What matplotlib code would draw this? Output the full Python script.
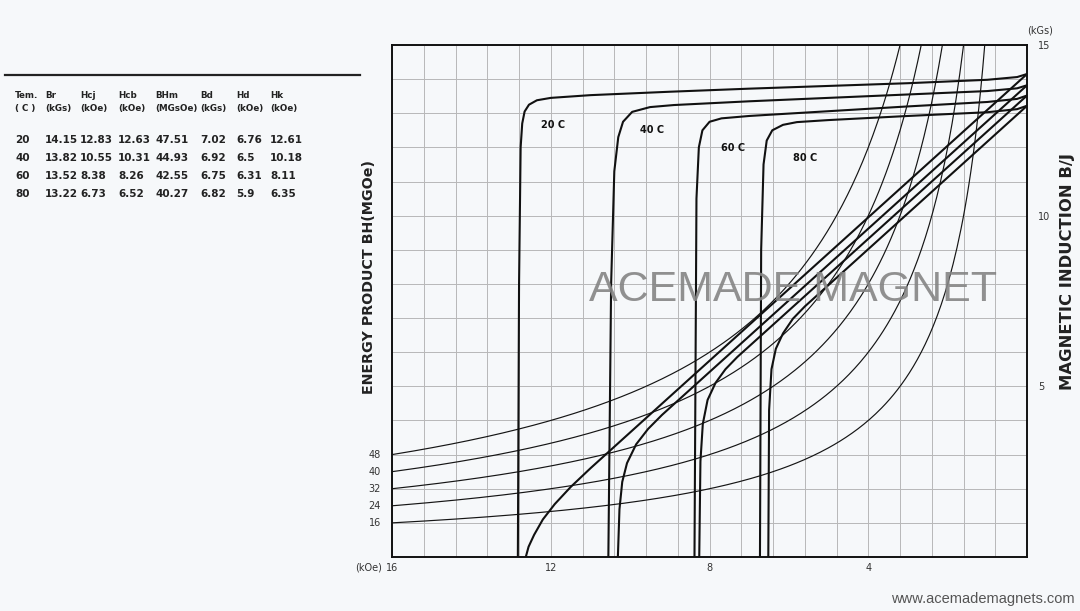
import matplotlib
matplotlib.use("Agg")
import matplotlib.pyplot as plt
import numpy as np

# table data
temps = ["20", "40", "60", "80"]
br = ["14.15", "13.82", "13.52", "13.22"]
hcj = ["12.83", "10.55", "8.38", "6.73"]
hcb = ["12.63", "10.31", "8.26", "6.52"]
bhm = ["47.51", "44.93", "42.55", "40.27"]
bd = ["7.02", "6.92", "6.75", "6.82"]
hd = ["6.76", "6.5", "6.31", "5.9"]
hk = ["12.61", "10.18", "8.11", "6.35"]
col_head = ["Tem.", "Br", "Hcj", "Hcb", "BHm", "Bd", "Hd", "Hk"]
col_unit = ["( C )", "(kGs)", "(kOe)", "(kOe)", "(MGsOe)", "(kGs)", "(kOe)", "(kOe)"]

# intrinsic curves J(H) (H in kOe, J in kGs)
j20_h = [0, 0.25, 1, 3, 5, 7, 9, 11, 12, 12.35, 12.55, 12.66, 12.72, 12.76, 12.8, 12.83]
j20_b = [14.15, 14.06, 13.98, 13.88, 13.8, 13.72, 13.63, 13.53, 13.45, 13.38, 13.25, 13.05, 12.7, 12.0, 8.0, 0]
j40_h = [0, 0.25, 1, 3, 5, 7, 8.9, 9.5, 9.95, 10.18, 10.3, 10.4, 10.48, 10.55]
j40_b = [13.82, 13.73, 13.65, 13.55, 13.45, 13.35, 13.24, 13.18, 13.04, 12.75, 12.3, 11.3, 8.0, 0]
j60_h = [0, 0.25, 1, 3, 5, 7, 7.7, 8.0, 8.18, 8.27, 8.33, 8.38]
j60_b = [13.52, 13.42, 13.33, 13.2, 13.06, 12.92, 12.85, 12.75, 12.5, 12.0, 10.5, 0]
j80_h = [0, 0.25, 1, 3, 5, 5.8, 6.15, 6.42, 6.56, 6.64, 6.7, 6.73]
j80_b = [13.22, 13.12, 13.03, 12.92, 12.8, 12.74, 12.66, 12.5, 12.2, 11.5, 9.0, 0]

# normal curves B(H)
b20_h = [0, 11.0, 11.5, 11.9, 12.2, 12.42, 12.56, 12.63]
b20_b = [14.15, 2.6, 2.05, 1.55, 1.1, 0.65, 0.3, 0]
b40_h = [0, 9.2, 9.55, 9.85, 10.08, 10.2, 10.27, 10.31]
b40_b = [13.82, 4.16, 3.75, 3.3, 2.75, 2.2, 1.4, 0]
b60_h = [0, 7.3, 7.6, 7.85, 8.05, 8.17, 8.23, 8.26]
b60_b = [13.52, 5.86, 5.5, 5.1, 4.6, 3.9, 2.8, 0]
b80_h = [0, 5.6, 5.9, 6.15, 6.33, 6.44, 6.5, 6.52]
b80_b = [13.22, 7.34, 6.98, 6.55, 6.1, 5.5, 4.3, 0]

# curve labels
lab_text = ["20 C", "40 C", "60 C", "80 C"]
lab_h = [11.95, 9.45, 7.4, 5.6]
lab_b = [12.65, 12.5, 11.98, 11.69]

# constant energy product lines (MGOe)
bh_levels = [16, 24, 32, 40, 48]

bg = "#f6f8fa"
fig = plt.figure(figsize=(10.8, 6.11), dpi=100, facecolor=bg)
ax = fig.add_axes([0.363, 0.0884, 0.588, 0.838])
ax.set_facecolor(bg)

ax.set_xlim(16, 0)
ax.set_ylim(0, 15)
ax.set_xticks([16, 12, 8, 4])
ax.set_xticks(np.arange(0, 16.01, 0.8), minor=True)
ax.set_yticks([5, 10, 15])
ax.set_yticks(np.arange(0, 15.01, 1), minor=True)
ax.grid(True, which="both", color="#b8b8b8", lw=0.7)
ax.set_axisbelow(True)
ax.tick_params(which="both", length=0)
ax.tick_params(axis="x", labelsize=7, colors="#333333", pad=4)
ax.tick_params(axis="y", labelleft=False, labelright=True, labelsize=7, colors="#333333", pad=8)
ax.set_xticklabels(["16", "12", "8", "4"])
ax.set_yticklabels(["5", "10", "15"])
for s in ax.spines.values():
  s.set_linewidth(1.4)
  s.set_color("#111111")

for lv in bh_levels:
  h = np.linspace(lv / 15.0, 16, 300)
  ax.plot(h, lv / h, color="#151515", lw=0.85)
  ax.annotate(str(lv), (16, lv / 16.0), xytext=(-8, 0), textcoords="offset points",
              ha="right", va="center", fontsize=7, color="#333333")

kw = dict(color="#111111", lw=1.5, solid_joinstyle="round", solid_capstyle="round")
for hh, bb in [(j20_h, j20_b), (j40_h, j40_b), (j60_h, j60_b), (j80_h, j80_b),
               (b20_h, b20_b), (b40_h, b40_b), (b60_h, b60_b), (b80_h, b80_b)]:
  ax.plot(hh, bb, **kw)

for t, x, y in zip(lab_text, lab_h, lab_b):
  ax.text(x, y, t, fontsize=7, family="Liberation Sans Narrow", fontweight="bold",
          ha="center", va="center", color="#111111")

fig.text(382 / 1080, 1 - 567 / 611, "(kOe)", fontsize=7, color="#333333", ha="right", va="center")
ax.text(1.02, 1.029, "(kGs)", fontsize=7, color="#333333", ha="center", va="center",
        transform=ax.transAxes)

fig.text(0.342, 0.546, "ENERGY PRODUCT BH(MGOe)", rotation=90, fontsize=10.3,
         fontweight="bold", family="DejaVu Sans", ha="center", va="center", color="#222222")
fig.text(0.988, 0.555, "MAGNETIC INDUCTION B/J", rotation=90, fontsize=11.8,
         fontweight="bold", family="DejaVu Sans", ha="center", va="center", color="#222222")

fig.text(0.734, 0.525, "ACEMADE MAGNET", fontsize=31, family="Liberation Sans",
         color="#858585", alpha=0.9, ha="center", va="center")
fig.text(0.995, 0.02, "www.acemademagnets.com", fontsize=10.5, family="Liberation Sans",
         color="#555555", ha="right", va="center")

# left table
fig.add_artist(plt.Line2D([0.005, 0.333], [1 - 75 / 611, 1 - 75 / 611], color="#222222", lw=1.6))
col_x = [15, 45, 80, 118, 155, 200, 236, 270]
tkw = dict(fontsize=6.3, family="Liberation Sans Narrow", fontweight="bold", color="#222222",
           ha="left", va="center")
for i, x in enumerate(col_x):
  fig.text(x / 1080, 1 - 95 / 611, col_head[i], **tkw)
  fig.text(x / 1080, 1 - 108 / 611, col_unit[i], **tkw)
rows = list(zip(temps, br, hcj, hcb, bhm, bd, hd, hk))
for r, row in enumerate(rows):
  y = 140 + 18 * r
  for i, x in enumerate(col_x):
    fig.text(x / 1080, 1 - y / 611, row[i], **dict(tkw, fontsize=7.5))

fig.savefig("out.png", dpi=100, facecolor=bg)
